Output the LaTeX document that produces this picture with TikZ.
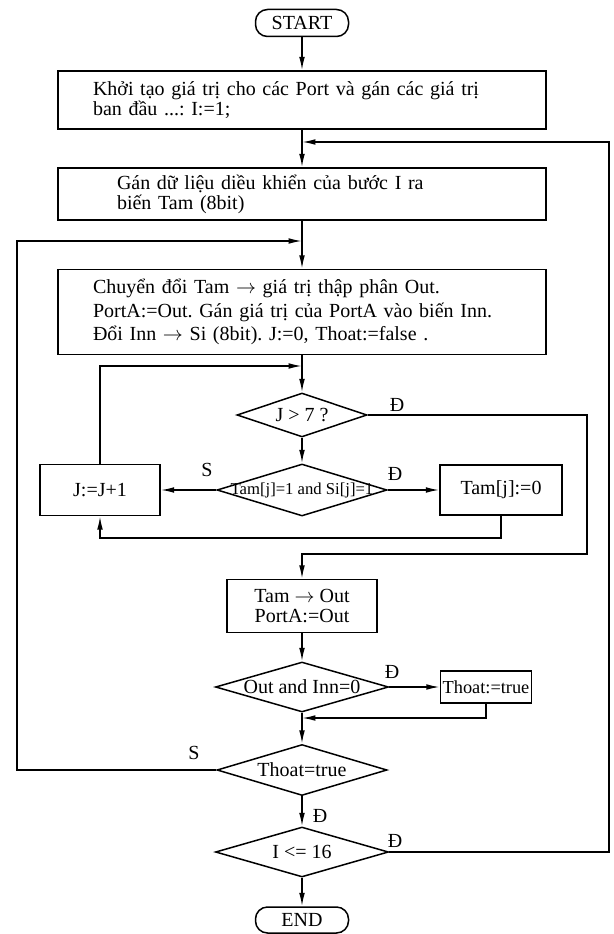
\documentclass[tikz,border=0pt]{standalone}
\usepackage{fontspec}
\setmainfont{Liberation Serif}
\usetikzlibrary{arrows.meta,shapes.geometric}
\newlength\px
\setlength\px{0.6pt}
\frenchspacing
\tikzset{
  flow/.style={-{Latex[length=8pt,width=3.4pt]}, line width=0.9pt},
  textbox/.style={draw, line width=0.9pt, rectangle, align=left, inner ysep=0pt, minimum width=488\px, font=\fontsize{12}{12}\selectfont},
  stepbox/.style={draw, line width=0.9pt, rectangle, inner sep=0pt},
  decision/.style={draw, line width=0.9pt, diamond, inner sep=0pt},
  terminal/.style={draw, line width=0.9pt, rectangle, rounded corners=12\px, minimum width=93\px, minimum height=27\px, inner sep=0pt},
  branch/.style={inner sep=0pt}
}
\begin{document}
\begin{tikzpicture}[x=\px, y=-\px, font=\fontsize{12}{12}\selectfont]
\useasboundingbox (0,0) rectangle (613,934);
\node[terminal] (start) at (302,23) {START};
\node[textbox, inner xsep=35\px, text width=418\px, minimum height=58\px] (init) at (302,100)
  {Khởi tạo giá trị cho các Port và gán các giá trị\\ban đầu ...: I:=1;};
\node[textbox, inner xsep=59\px, text width=370\px, minimum height=52\px] (load) at (302,194)
  {Gán dữ liệu diều khiển của bước I ra\\biến Tam (8bit)};
\node[textbox, inner xsep=35\px, text width=418\px, minimum height=85\px, font=\fontsize{12}{14}\selectfont] (conv) at (302,312)
  {Chuyển đổi Tam $\rightarrow$ giá trị thập phân Out.\\PortA:=Out. Gán giá trị của PortA vào biến Inn.\\Đổi Inn $\rightarrow$ Si (8bit). J:=0, Thoat:=false .};
\coordinate (j1) at (302,142);
\coordinate (j2) at (302,241);
\coordinate (j3) at (302,366);
\node[decision, minimum width=130\px, minimum height=44\px, label=center:{J > 7 ?}] (jq) at (302,415) {};
\node[decision, minimum width=170\px, minimum height=52\px, label={[font=\fontsize{10}{10}\selectfont]center:{Tam[j]=1 and Si[j]=1}}] (tamq) at (302,490) {};
\node[stepbox, minimum width=120\px, minimum height=51\px] (jinc) at (100,490) {J:=J+1};
\node[stepbox, minimum width=122\px, minimum height=50\px] (tamzero) at (501,490) {Tam[j]:=0};
\node[stepbox, minimum width=150\px, minimum height=53\px, align=center] (tamout) at (302,606) {Tam $\rightarrow$ Out\\PortA:=Out};
\node[decision, minimum width=173\px, minimum height=50\px, label=center:{Out and Inn=0}] (outq) at (302,687) {};
\node[stepbox, minimum width=91\px, minimum height=32\px, font=\fontsize{11}{11}\selectfont] (thoatset) at (486,687) {Thoat:=true};
\coordinate (j4) at (302,718);
\node[decision, minimum width=170\px, minimum height=51\px, label=center:{Thoat=true}] (thoatq) at (302,770) {};
\node[decision, minimum width=173\px, minimum height=50\px, label=center:{I <= 16}] (iq) at (302,852) {};
\node[terminal, minimum height=26\px] (stop) at (302,920) {END};
\coordinate (ocorner) at (587,554);
\coordinate (rback) at (501,538);
\coordinate (tback) at (486,718);
\coordinate (lcorner) at (17,770);
\coordinate (rcorner) at (609,852);
\draw[flow] (start) -- (init);
\draw[flow] (init) -- (load);
\draw[flow] (load) -- (conv);
\draw[flow] (conv) -- (jq);
\draw[flow] (jq) -- (tamq);
\draw[flow] (tamq.west) -- (jinc.east);
\draw[flow] (tamq.east) -- (tamzero.west);
\draw[flow] (tamzero.south) -- (rback) -| (jinc.south);
\draw[flow] (jinc.north) |- (j3);
\draw[flow] (jq.east) -| (ocorner) -| (tamout.north);
\draw[flow] (tamout) -- (outq);
\draw[flow] (outq.east) -- (thoatset.west);
\draw[flow] (thoatset.south) -- (tback) -- (j4);
\draw[flow] (outq) -- (thoatq);
\draw[flow] (thoatq.west) -- (lcorner) |- (j2);
\draw[flow] (thoatq) -- (iq);
\draw[flow] (iq.east) -- (rcorner) |- (j1);
\draw[flow] (iq) -- (stop);
\node[branch] (s1) at (207,470) {S};
\node[branch] (d1) at (395,474) {Đ};
\node[branch] (d2) at (397,405) {Đ};
\node[branch] (d3) at (392,672) {Đ};
\node[branch] (s2) at (194,753) {S};
\node[branch] (d4) at (320,816) {Đ};
\node[branch] (d5) at (395,841) {Đ};
\end{tikzpicture}
\end{document}
